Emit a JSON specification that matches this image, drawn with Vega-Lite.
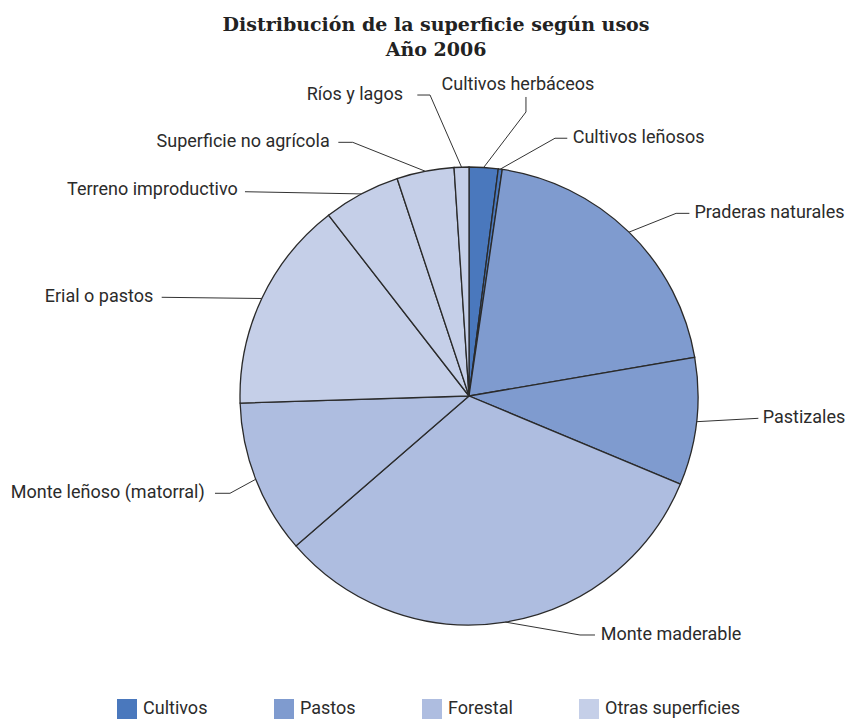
{
  "$schema": "https://vega.github.io/schema/vega-lite/v6.json",
  "autosize": {"type": "none"},
  "width": 600,
  "height": 500,
  "padding": {"left": 169, "top": 146, "right": 78, "bottom": 74},
  "background": "white",
  "title": {
    "text": ["Distribución de la superficie según usos", "Año 2006"],
    "font": "DejaVu Serif",
    "fontWeight": "bold",
    "fontSize": 19,
    "lineHeight": 25,
    "color": "#222",
    "anchor": "middle",
    "dx": -33,
    "offset": 16
  },
  "data": {
    "values": [
      {"orden": 1, "uso": "Cultivos herbáceos", "grupo": "Cultivos", "valor": 2.04},
      {"orden": 2, "uso": "Cultivos leñosos", "grupo": "Cultivos", "valor": 0.28},
      {"orden": 3, "uso": "Praderas naturales", "grupo": "Pastos", "valor": 19.98},
      {"orden": 4, "uso": "Pastizales", "grupo": "Pastos", "valor": 8.98},
      {"orden": 5, "uso": "Monte maderable", "grupo": "Forestal", "valor": 32.36},
      {"orden": 6, "uso": "Monte leñoso (matorral)", "grupo": "Forestal", "valor": 10.87},
      {"orden": 7, "uso": "Erial o pastos", "grupo": "Otras superficies", "valor": 14.98},
      {"orden": 8, "uso": "Terreno improductivo", "grupo": "Otras superficies", "valor": 5.43},
      {"orden": 9, "uso": "Superficie no agrícola", "grupo": "Otras superficies", "valor": 4.04},
      {"orden": 10, "uso": "Ríos y lagos", "grupo": "Otras superficies", "valor": 1.04}
    ]
  },
  "transform": [
    {"window": [{"op": "sum", "field": "valor", "as": "acum"}], "sort": [{"field": "orden"}]},
    {"joinaggregate": [{"op": "sum", "field": "valor", "as": "total"}]},
    {"calculate": "2 * PI * (datum.acum - datum.valor / 2) / datum.total", "as": "medio"},
    {"calculate": "sin(datum.medio) * 229", "as": "ex"},
    {"calculate": "cos(datum.medio) * 229", "as": "ey"}
  ],
  "layer": [
    {
      "mark": {"type": "arc", "outerRadius": 229, "stroke": "#2a2a2a", "strokeWidth": 1.3},
      "encoding": {
        "theta": {"field": "valor", "type": "quantitative", "stack": true},
        "order": {"field": "orden", "type": "quantitative"},
        "color": {
          "field": "grupo",
          "type": "nominal",
          "scale": {
            "domain": ["Cultivos", "Pastos", "Forestal", "Otras superficies"],
            "range": ["#4a78bd", "#7f9bcf", "#aebde0", "#c5cfe8"]
          },
          "legend": {
            "orient": "none",
            "legendX": -52,
            "legendY": 553,
            "direction": "horizontal",
            "title": null,
            "symbolType": "square",
            "symbolSize": 400,
            "symbolStrokeWidth": 0,
            "symbolOpacity": 1,
            "labelFont": "Roboto",
            "labelFontSize": 18,
            "labelColor": "#2b2b2b",
            "labelOffset": 6,
            "columnPadding": 66
          }
        }
      }
    },
    {
      "encoding": {
        "x": {"field": "ex", "type": "quantitative", "scale": {"domain": [-300, 300], "nice": false, "zero": false}, "axis": null},
        "y": {"field": "ey", "type": "quantitative", "scale": {"domain": [-250, 250], "nice": false, "zero": false}, "axis": null}
      },
      "layer": [
        {
          "transform": [{"filter": "datum.uso === 'Cultivos herbáceos'"}],
          "layer": [
            {"mark": {"type": "rule", "color": "#333", "strokeWidth": 1, "x2Offset": 42.3, "y2Offset": -55.5}, "encoding": {"x2": {"field": "ex"}, "y2": {"field": "ey"}}},
            {"mark": {"type": "rule", "color": "#333", "strokeWidth": 1, "xOffset": 42.3, "yOffset": -55.5, "x2Offset": 42.3, "y2Offset": -70.5}, "encoding": {"x2": {"field": "ex"}, "y2": {"field": "ey"}}},
            {"mark": {"type": "text", "font": "Roboto", "fontSize": 18, "color": "#2b2b2b", "align": "center", "baseline": "middle", "dx": 34.3, "dy": -82.5}, "encoding": {"text": {"field": "uso"}}}
          ]
        },
        {
          "transform": [{"filter": "datum.uso === 'Cultivos leñosos'"}],
          "layer": [
            {"mark": {"type": "rule", "color": "#333", "strokeWidth": 1, "x2Offset": 54.7, "y2Offset": -30.9}, "encoding": {"x2": {"field": "ex"}, "y2": {"field": "ey"}}},
            {"mark": {"type": "rule", "color": "#333", "strokeWidth": 1, "xOffset": 54.7, "yOffset": -30.9, "x2Offset": 67, "y2Offset": -30.9}, "encoding": {"x2": {"field": "ex"}, "y2": {"field": "ey"}}},
            {"mark": {"type": "text", "font": "Roboto", "fontSize": 18, "color": "#2b2b2b", "align": "left", "baseline": "middle", "dx": 72.4, "dy": -30.9}, "encoding": {"text": {"field": "uso"}}}
          ]
        },
        {
          "transform": [{"filter": "datum.uso === 'Praderas naturales'"}],
          "layer": [
            {"mark": {"type": "rule", "color": "#333", "strokeWidth": 1, "x2Offset": 47.1, "y2Offset": -18.8}, "encoding": {"x2": {"field": "ex"}, "y2": {"field": "ey"}}},
            {"mark": {"type": "rule", "color": "#333", "strokeWidth": 1, "xOffset": 47.1, "yOffset": -18.8, "x2Offset": 60.4, "y2Offset": -18.8}, "encoding": {"x2": {"field": "ex"}, "y2": {"field": "ey"}}},
            {"mark": {"type": "text", "font": "Roboto", "fontSize": 18, "color": "#2b2b2b", "align": "left", "baseline": "middle", "dx": 65.4, "dy": -19.5}, "encoding": {"text": {"field": "uso"}}}
          ]
        },
        {
          "transform": [{"filter": "datum.uso === 'Pastizales'"}],
          "layer": [
            {"mark": {"type": "rule", "color": "#333", "strokeWidth": 1, "x2Offset": 61.8, "y2Offset": -3.4}, "encoding": {"x2": {"field": "ex"}, "y2": {"field": "ey"}}},
            {"mark": {"type": "text", "font": "Roboto", "fontSize": 18, "color": "#2b2b2b", "align": "left", "baseline": "middle", "dx": 66.2, "dy": -3.4}, "encoding": {"text": {"field": "uso"}}}
          ]
        },
        {
          "transform": [{"filter": "datum.uso === 'Monte maderable'"}],
          "layer": [
            {"mark": {"type": "rule", "color": "#333", "strokeWidth": 1, "x2Offset": 74.6, "y2Offset": 12.9}, "encoding": {"x2": {"field": "ex"}, "y2": {"field": "ey"}}},
            {"mark": {"type": "rule", "color": "#333", "strokeWidth": 1, "xOffset": 74.6, "yOffset": 12.9, "x2Offset": 89.6, "y2Offset": 12.9}, "encoding": {"x2": {"field": "ex"}, "y2": {"field": "ey"}}},
            {"mark": {"type": "text", "font": "Roboto", "fontSize": 18, "color": "#2b2b2b", "align": "left", "baseline": "middle", "dx": 95.3, "dy": 12.9}, "encoding": {"text": {"field": "uso"}}}
          ]
        },
        {
          "transform": [{"filter": "datum.uso === 'Monte leñoso (matorral)'"}],
          "layer": [
            {"mark": {"type": "rule", "color": "#333", "strokeWidth": 1, "x2Offset": -25.7, "y2Offset": 14}, "encoding": {"x2": {"field": "ex"}, "y2": {"field": "ey"}}},
            {"mark": {"type": "rule", "color": "#333", "strokeWidth": 1, "xOffset": -25.7, "yOffset": 14, "x2Offset": -40.7, "y2Offset": 14}, "encoding": {"x2": {"field": "ex"}, "y2": {"field": "ey"}}},
            {"mark": {"type": "text", "font": "Roboto", "fontSize": 18, "color": "#2b2b2b", "align": "right", "baseline": "middle", "dx": -51, "dy": 13.5}, "encoding": {"text": {"field": "uso"}}}
          ]
        },
        {
          "transform": [{"filter": "datum.uso === 'Erial o pastos'"}],
          "layer": [
            {"mark": {"type": "rule", "color": "#333", "strokeWidth": 1, "x2Offset": -100.1, "y2Offset": -1.2}, "encoding": {"x2": {"field": "ex"}, "y2": {"field": "ey"}}},
            {"mark": {"type": "text", "font": "Roboto", "fontSize": 18, "color": "#2b2b2b", "align": "right", "baseline": "middle", "dx": -108.5, "dy": -1.5}, "encoding": {"text": {"field": "uso"}}}
          ]
        },
        {
          "transform": [{"filter": "datum.uso === 'Terreno improductivo'"}],
          "layer": [
            {"mark": {"type": "rule", "color": "#333", "strokeWidth": 1, "x2Offset": -116.3, "y2Offset": -2.2}, "encoding": {"x2": {"field": "ex"}, "y2": {"field": "ey"}}},
            {"mark": {"type": "text", "font": "Roboto", "fontSize": 18, "color": "#2b2b2b", "align": "right", "baseline": "middle", "dx": -123.5, "dy": -4.4}, "encoding": {"text": {"field": "uso"}}}
          ]
        },
        {
          "transform": [{"filter": "datum.uso === 'Superficie no agrícola'"}],
          "layer": [
            {"mark": {"type": "rule", "color": "#333", "strokeWidth": 1, "x2Offset": -72.5, "y2Offset": -28.9}, "encoding": {"x2": {"field": "ex"}, "y2": {"field": "ey"}}},
            {"mark": {"type": "rule", "color": "#333", "strokeWidth": 1, "xOffset": -72.5, "yOffset": -28.9, "x2Offset": -86.9, "y2Offset": -28.9}, "encoding": {"x2": {"field": "ex"}, "y2": {"field": "ey"}}},
            {"mark": {"type": "text", "font": "Roboto", "fontSize": 18, "color": "#2b2b2b", "align": "right", "baseline": "middle", "dx": -95.5, "dy": -29}, "encoding": {"text": {"field": "uso"}}}
          ]
        },
        {
          "transform": [{"filter": "datum.uso === 'Ríos y lagos'"}],
          "layer": [
            {"mark": {"type": "rule", "color": "#333", "strokeWidth": 1, "x2Offset": -31.5, "y2Offset": -72.1}, "encoding": {"x2": {"field": "ex"}, "y2": {"field": "ey"}}},
            {"mark": {"type": "rule", "color": "#333", "strokeWidth": 1, "xOffset": -31.5, "yOffset": -72.1, "x2Offset": -44.2, "y2Offset": -72.1}, "encoding": {"x2": {"field": "ex"}, "y2": {"field": "ey"}}},
            {"mark": {"type": "text", "font": "Roboto", "fontSize": 18, "color": "#2b2b2b", "align": "right", "baseline": "middle", "dx": -58.5, "dy": -72.5}, "encoding": {"text": {"field": "uso"}}}
          ]
        }
      ]
    }
  ],
  "config": {
    "view": {"stroke": null}
  }
}
